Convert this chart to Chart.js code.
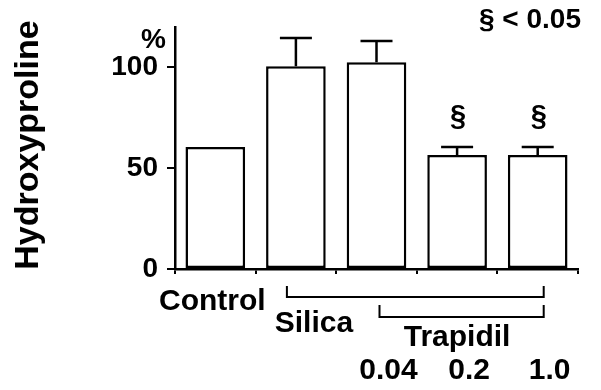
<!DOCTYPE html>
<html>
<head>
<meta charset="utf-8">
<script src="https://cdn.jsdelivr.net/npm/chart.js@4.4.1/dist/chart.umd.min.js"></script>
<style>
  html, body { margin: 0; padding: 0; background: #fff; }
  #wrap { width: 601px; height: 390px; }
</style>
</head>
<body>
<div id="wrap"><canvas id="chart" width="601" height="390"></canvas></div>
<script>
// Data (percent of silica group)
const categories = ['Control', 'Silica', 'Trapidil 0.04', 'Trapidil 0.2', 'Trapidil 1.0'];
const values = [60.5, 100.5, 102.5, 56.5, 56.5];
const errors = [0, 14, 10.5, 4, 4];
const sigMarks = ['', '', '', '§', '§'];
const doseLabels = ['', '', '0.04', '0.2', '1.0'];
const yTicks = [0, 50, 100];
const yTitle = 'Hydroxyproline';
const yUnit = '%';
const sigNote = '§ < 0.05';

const FONT = '"Liberation Sans", Arial, sans-serif';

// error bars + significance marks on top of bars
const errorBarPlugin = {
  id: 'errorBars',
  afterDatasetsDraw(chart) {
    const { ctx } = chart;
    const y = chart.scales.y;
    const meta = chart.getDatasetMeta(0);
    ctx.save();
    ctx.strokeStyle = '#000';
    ctx.lineWidth = 2.5;
    meta.data.forEach((bar, i) => {
      const yBar = y.getPixelForValue(values[i]);
      const yTop = y.getPixelForValue(values[i] + errors[i]);
      if (errors[i] > 0) {
        ctx.beginPath();
        ctx.moveTo(bar.x, yBar);
        ctx.lineTo(bar.x, yTop);
        ctx.moveTo(bar.x - 16, yTop);
        ctx.lineTo(bar.x + 16, yTop);
        ctx.stroke();
      }
      if (sigMarks[i]) {
        ctx.fillStyle = '#000';
        ctx.font = 'bold 29px ' + FONT;
        ctx.textAlign = 'center';
        ctx.textBaseline = 'bottom';
        ctx.fillText(sigMarks[i], bar.x + 1, yTop - 15);
      }
    });
    ctx.restore();
  },
};

// group labels, brackets, axis title and notes
const labelPlugin = {
  id: 'groupLabels',
  afterDraw(chart) {
    const { ctx, chartArea } = chart;
    const meta = chart.getDatasetMeta(0);
    const xs = meta.data.map(b => b.x);
    const base = chartArea.bottom;
    ctx.save();
    ctx.fillStyle = '#000';
    ctx.strokeStyle = '#000';
    ctx.lineWidth = 2;
    ctx.textBaseline = 'middle';
    ctx.textAlign = 'center';
    ctx.font = 'bold 30px ' + FONT;

    ctx.fillText('Control', xs[0] - 3, base + 33);
    ctx.fillText('Silica', xs[1] + 18, base + 55);
    ctx.fillText('Trapidil', xs[3], base + 69);
    doseLabels.forEach((d, i) => {
      if (d) ctx.fillText(d, xs[i] + 12, base + 102);
    });

    // brackets
    const bracket = (x1, x2, yLine, h) => {
      ctx.beginPath();
      ctx.moveTo(x1, yLine - h);
      ctx.lineTo(x1, yLine);
      ctx.lineTo(x2, yLine);
      ctx.lineTo(x2, yLine - h);
      ctx.stroke();
    };
    bracket(xs[1] - 9, xs[4] + 6, base + 28, 11);
    bracket(xs[2] + 3, xs[4] + 6, base + 48, 12);

    // y title
    ctx.save();
    ctx.translate(29, 145);
    ctx.rotate(-Math.PI / 2);
    ctx.font = 'bold 34px ' + FONT;
    ctx.fillText(yTitle, 0, 0);
    ctx.restore();

    // unit and note
    ctx.font = 'bold 28px ' + FONT;
    ctx.textAlign = 'right';
    ctx.fillText(yUnit, 166, 40);
    ctx.fillText(sigNote, 581, 20);
    ctx.restore();
  },
};

new Chart(document.getElementById('chart'), {
  type: 'bar',
  data: {
    labels: categories,
    datasets: [{
      data: values,
      backgroundColor: '#fff',
      borderColor: '#000',
      borderWidth: 2.5,
      borderSkipped: false,
      barPercentage: 0.74,
      categoryPercentage: 1,
    }],
  },
  options: {
    responsive: false,
    animation: false,
    layout: { padding: { left: 0, top: 27, right: 23, bottom: 0 } },
    plugins: { legend: { display: false }, tooltip: { enabled: false } },
    scales: {
      x: {
        afterFit: (s) => { s.height = 121; },
        ticks: { display: false },
        grid: { drawOnChartArea: false, tickLength: 5, color: '#000', lineWidth: 2, offset: true },
        border: { color: '#000', width: 2.5 },
      },
      y: {
        min: 0,
        max: 120,
        afterFit: (s) => { s.width = 175; },
        afterBuildTicks: (s) => { s.ticks = yTicks.map(v => ({ value: v })); },
        ticks: {
          color: '#000',
          padding: 9,
          font: { family: FONT, size: 28, weight: 'bold' },
        },
        grid: { drawOnChartArea: false, tickLength: 8, color: '#000', lineWidth: 2 },
        border: { color: '#000', width: 2.5 },
      },
    },
  },
  plugins: [errorBarPlugin, labelPlugin],
});
</script>
</body>
</html>
